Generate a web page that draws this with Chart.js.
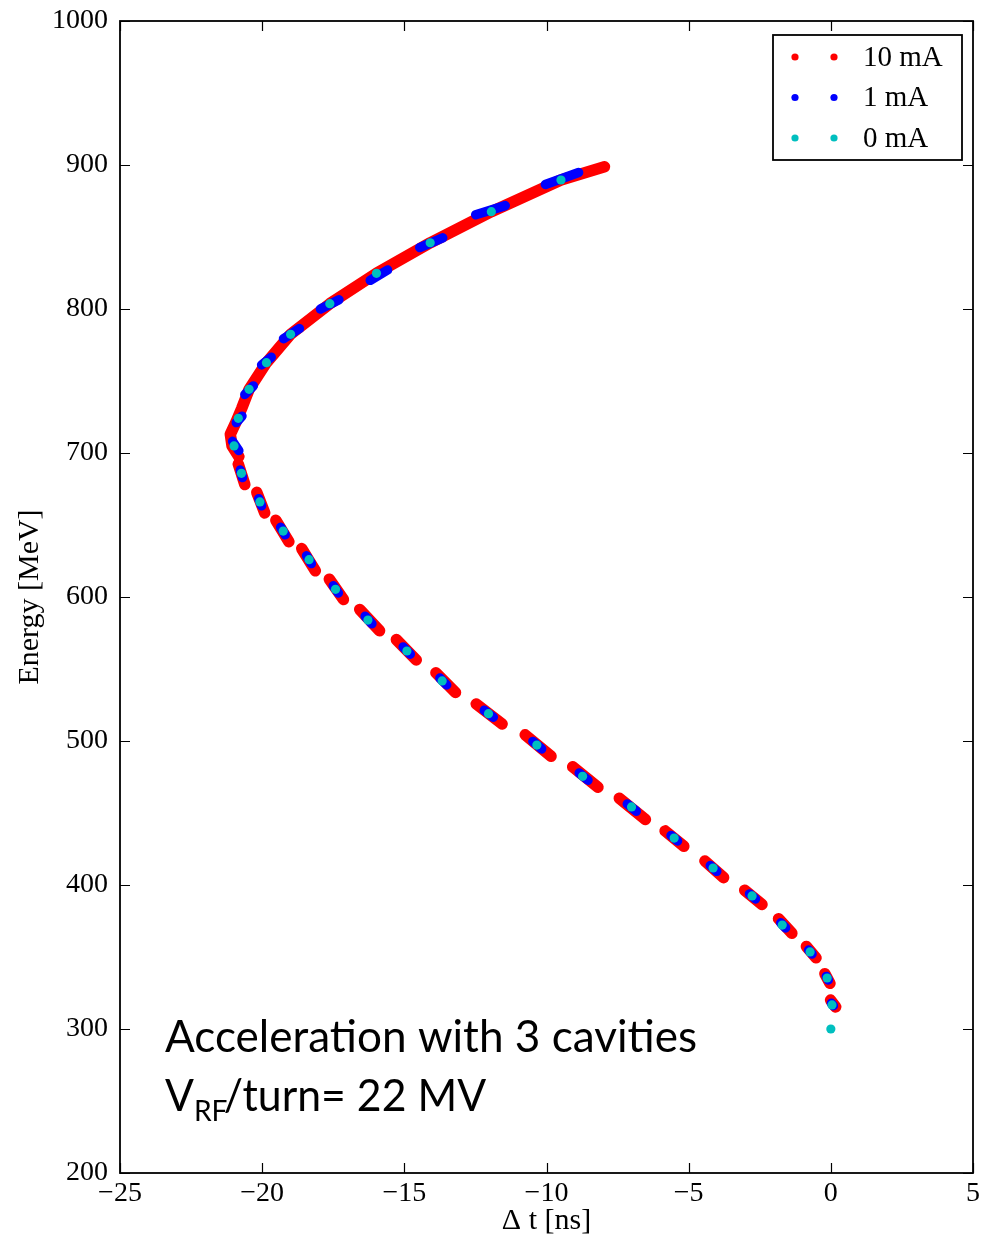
<!DOCTYPE html>
<html>
<head>
<meta charset="utf-8">
<script src="https://cdn.jsdelivr.net/npm/chart.js@4.4.1/dist/chart.umd.min.js"></script>
<style>
  html, body { margin: 0; padding: 0; background: #ffffff; }
  #wrap { position: relative; width: 992px; height: 1238px; }
  canvas { display: block; }
</style>
</head>
<body>
<div id="wrap"><canvas id="c" width="992" height="1238"></canvas></div>
<script>
// ---------------- data ----------------
const seriesNames = ['10 mA', '1 mA', '0 mA'];
const seriesColors = ['#ff0000', '#0000ff', '#00bfbf'];

const xTickValues = [-25, -20, -15, -10, -5, 0, 5];
const xTickLabels = ['\u221225', '\u221220', '\u221215', '\u221210', '\u22125', '0', '5'];
const yTickValues = [200, 300, 400, 500, 600, 700, 800, 900, 1000];
const yTickLabels = ['200', '300', '400', '500', '600', '700', '800', '900', '1000'];

// 0 mA: one point per turn (Δt [ns], E [MeV])
const cyanT = [0.00, 0.04, -0.13, -0.73, -1.71, -2.77, -4.14, -5.51, -7.01, -8.73,
               -10.34, -12.04, -13.67, -14.91, -16.28, -17.42, -18.35, -19.26, -20.08, -20.73,
               -20.99, -20.84, -20.46, -19.85, -19.00, -17.62, -15.98, -14.09, -11.94, -9.49];
const cyanE = [300.0, 316.7, 335.4, 353.5, 372.2, 392.4, 411.8, 432.6, 454.2, 475.5,
               497.2, 519.0, 541.7, 562.5, 584.0, 605.3, 625.9, 645.8, 666.0, 685.9,
               704.9, 724.1, 744.2, 762.7, 782.4, 803.7, 824.8, 846.0, 867.6, 889.6];

// 1 mA: extent of each turn's bunch, as strokes of [Δt, E] points
const blueStrokes = [
  [[0.02, 317.9], [0.09, 316.2]],
  [[-0.16, 336.5], [-0.09, 334.1]],
  [[-0.78, 354.8], [-0.66, 352.1]],
  [[-1.76, 373.7], [-1.59, 370.2]],
  [[-2.86, 393.8], [-2.65, 390.3]],
  [[-4.24, 413.5], [-4.01, 409.5]],
  [[-5.62, 434.4], [-5.39, 430.6]],
  [[-7.16, 456.3], [-6.84, 451.2]],
  [[-8.85, 477.8], [-8.54, 472.8]],
  [[-10.48, 499.7], [-10.17, 494.5]],
  [[-12.19, 521.3], [-11.87, 516.5]],
  [[-13.75, 543.7], [-13.51, 538.9]],
  [[-15.04, 565.3], [-14.79, 560.3]],
  [[-16.38, 586.6], [-16.14, 581.4]],
  [[-17.50, 607.8], [-17.32, 602.8]],
  [[-18.44, 628.6], [-18.27, 623.2]],
  [[-19.35, 648.4], [-19.19, 643.2]],
  [[-20.12, 668.3], [-20.02, 663.3]],
  [[-20.77, 688.1], [-20.69, 683.0]],
  [[-21.04, 708.1], [-20.82, 701.7]],
  [[-20.91, 721.1], [-20.71, 725.6]],
  [[-20.61, 740.6], [-20.31, 746.6]],
  [[-20.02, 761.2], [-19.68, 766.5]],
  [[-19.25, 779.4], [-18.69, 786.4]],
  [[-17.95, 800.0], [-17.30, 806.5]],
  [[-16.20, 819.9], [-15.59, 827.1]],
  [[-14.46, 842.7], [-13.65, 849.4]],
  [[-12.49, 865.5], [-11.45, 871.8]],
  [[-10.04, 886.5], [-8.87, 894.8]]
];

// 10 mA: extent of each turn's bunch (upper turns merge into one band)
const redStrokes = [
  [[-0.01, 320.1], [0.17, 315.3]],
  [[-0.21, 338.4], [-0.03, 331.7]],
  [[-0.86, 357.3], [-0.52, 349.4]],
  [[-1.84, 376.6], [-1.37, 366.5]],
  [[-3.03, 396.4], [-2.42, 386.5]],
  [[-4.43, 416.7], [-3.77, 405.1]],
  [[-5.83, 437.6], [-5.17, 426.9]],
  [[-7.44, 460.3], [-6.52, 445.5]],
  [[-9.08, 482.1], [-8.19, 467.9]],
  [[-10.75, 504.3], [-9.84, 489.4]],
  [[-12.47, 525.7], [-11.56, 511.8]],
  [[-13.89, 547.4], [-13.20, 533.7]],
  [[-15.28, 570.4], [-14.58, 556.3]],
  [[-16.57, 591.3], [-15.87, 576.6]],
  [[-17.64, 612.4], [-17.14, 598.2]],
  [[-18.61, 633.6], [-18.13, 618.2]],
  [[-19.52, 653.3], [-19.06, 638.4]],
  [[-20.19, 672.7], [-19.91, 658.4]],
  [[-20.84, 692.3], [-20.61, 678.1]],
  [[-20.82, 697.5], [-21.06, 704.9], [-21.12, 713.0], [-20.92, 721.5], [-20.72, 731.0],
   [-20.46, 744.2], [-19.85, 762.7], [-19.00, 782.4], [-17.62, 803.7], [-15.98, 824.8],
   [-14.09, 846.0], [-11.94, 867.6], [-9.49, 889.6], [-7.96, 898.8]]
];

const xTitle = '\u0394 t [ns]';
const yTitle = 'Energy [MeV]';
const noteLine1 = 'Acceleration with 3 cavities';
const noteLine2 = ['V', 'RF', '/turn= 22 MV'];

// ---------------- build library tables ----------------
function strokesToData(strokes) {
  const out = [];
  strokes.forEach((s, i) => {
    if (i > 0) out.push({ x: null, y: null });
    s.forEach(p => out.push({ x: p[0], y: p[1] }));
  });
  return out;
}
const cyanData = cyanT.map((t, i) => ({ x: t, y: cyanE[i] }));

const SERIF = '"Liberation Serif", "DejaVu Serif", serif';
const SANS = 'Lato, "Open Sans", "Noto Sans", sans-serif';

// frame + inward ticks on all four sides
const framePlugin = {
  id: 'frame',
  afterDatasetsDraw(chart) {
    const { ctx, chartArea: a, scales } = chart;
    ctx.save();
    ctx.strokeStyle = '#000';
    ctx.lineWidth = 1.2;
    const L = 10;
    ctx.beginPath();
    xTickValues.forEach(v => {
      const px = Math.round(scales.x.getPixelForValue(v)) + 0.5;
      ctx.moveTo(px, a.bottom); ctx.lineTo(px, a.bottom - L);
      ctx.moveTo(px, a.top); ctx.lineTo(px, a.top + L);
    });
    yTickValues.forEach(v => {
      const py = Math.round(scales.y.getPixelForValue(v)) + 0.5;
      ctx.moveTo(a.left, py); ctx.lineTo(a.left + L, py);
      ctx.moveTo(a.right, py); ctx.lineTo(a.right - L, py);
    });
    ctx.stroke();
    ctx.lineWidth = 1.8;
    ctx.strokeRect(a.left, a.top, a.right - a.left, a.bottom - a.top);
    ctx.restore();
  }
};

// matplotlib-style legend box (two markers per entry) inside the axes
const legendPlugin = {
  id: 'mplLegend',
  afterDraw(chart) {
    const { ctx, chartArea: a } = chart;
    const w = 189, h = 125;
    const x0 = a.right - 11 - w, y0 = a.top + 14;
    ctx.save();
    ctx.fillStyle = '#fff';
    ctx.fillRect(x0, y0, w, h);
    ctx.strokeStyle = '#000';
    ctx.lineWidth = 1.8;
    ctx.strokeRect(x0, y0, w, h);
    ctx.font = '29px ' + SERIF;
    ctx.textBaseline = 'middle';
    ctx.textAlign = 'left';
    seriesNames.forEach((name, i) => {
      const yy = y0 + 22 + i * 40.5;
      ctx.fillStyle = seriesColors[i];
      [x0 + 22, x0 + 61].forEach(xx => {
        ctx.beginPath(); ctx.arc(xx, yy, 3.6, 0, Math.PI * 2); ctx.fill();
      });
      ctx.fillStyle = '#000';
      ctx.fillText(name, x0 + 90, yy + 1);
    });
    ctx.restore();
  }
};

// slide annotation text
const notePlugin = {
  id: 'note',
  afterDraw(chart) {
    const { ctx } = chart;
    ctx.save();
    ctx.fillStyle = '#000';
    ctx.textBaseline = 'alphabetic';
    ctx.textAlign = 'left';
    const big = '44px ' + SANS, small = '29px ' + SANS;
    ctx.font = big;
    const w1 = ctx.measureText(noteLine1).width;
    const sx = 532 / w1;
    const x0 = 165;
    ctx.save();
    ctx.translate(x0, 1052); ctx.scale(sx, 1);
    ctx.fillText(noteLine1, 0, 0);
    ctx.restore();
    ctx.save();
    ctx.translate(x0, 1111); ctx.scale(sx * 0.97, 1);
    ctx.font = big; ctx.fillText(noteLine2[0], 0, 0);
    let cx = ctx.measureText(noteLine2[0]).width;
    ctx.font = small; ctx.fillText(noteLine2[1], cx, 10);
    cx += ctx.measureText(noteLine2[1]).width;
    ctx.font = big; ctx.fillText(noteLine2[2], cx - 4, 0);
    ctx.restore();
    ctx.restore();
  }
};

new Chart(document.getElementById('c'), {
  type: 'scatter',
  data: {
    datasets: [
      {
        label: seriesNames[2], data: cyanData, order: 0,
        showLine: false, pointRadius: 4.6, pointHoverRadius: 4.6,
        pointBackgroundColor: seriesColors[2], pointBorderWidth: 0, borderColor: seriesColors[2]
      },
      {
        label: seriesNames[1], data: strokesToData(blueStrokes), order: 1,
        showLine: true, spanGaps: false, tension: 0, pointRadius: 0, pointHoverRadius: 0,
        borderColor: seriesColors[1], borderWidth: 9.5,
        borderCapStyle: 'round', borderJoinStyle: 'round'
      },
      {
        label: seriesNames[0], data: strokesToData(redStrokes), order: 2,
        showLine: true, spanGaps: false, tension: 0, pointRadius: 0, pointHoverRadius: 0,
        borderColor: seriesColors[0], borderWidth: 11.5,
        borderCapStyle: 'round', borderJoinStyle: 'round'
      }
    ]
  },
  options: {
    responsive: false,
    animation: false,
    devicePixelRatio: 1,
    layout: { padding: { top: 21, right: 19, left: 0, bottom: 0 } },
    plugins: { legend: { display: false }, tooltip: { enabled: false } },
    scales: {
      x: {
        type: 'linear', min: -25, max: 5,
        afterBuildTicks: s => { s.ticks = xTickValues.map(v => ({ value: v })); },
        afterFit: s => { s.height = 65; s.paddingLeft = 0; s.paddingRight = 0; },
        grid: { display: false, drawTicks: false },
        border: { display: false },
        ticks: {
          color: '#000', padding: 4, maxRotation: 0, autoSkip: false,
          font: { family: SERIF, size: 28 },
          callback: (v) => xTickLabels[xTickValues.indexOf(v)]
        },
        title: {
          display: true, text: xTitle, color: '#000',
          font: { family: SERIF, size: 30, lineHeight: 1.0 }, padding: { top: 0, bottom: 2 }
        }
      },
      y: {
        type: 'linear', min: 200, max: 1000,
        afterBuildTicks: s => { s.ticks = yTickValues.map(v => ({ value: v })); },
        afterFit: s => { s.width = 120; s.paddingTop = 0; s.paddingBottom = 0; },
        grid: { display: false, drawTicks: false },
        border: { display: false },
        ticks: {
          color: '#000', padding: 12, autoSkip: false,
          font: { family: SERIF, size: 28 },
          callback: (v) => yTickLabels[yTickValues.indexOf(v)]
        },
        title: {
          display: true, text: yTitle, color: '#000',
          font: { family: SERIF, size: 30 }, padding: { top: 12, bottom: 0 }
        }
      }
    }
  },
  plugins: [framePlugin, notePlugin, legendPlugin]
});
</script>
</body>
</html>
